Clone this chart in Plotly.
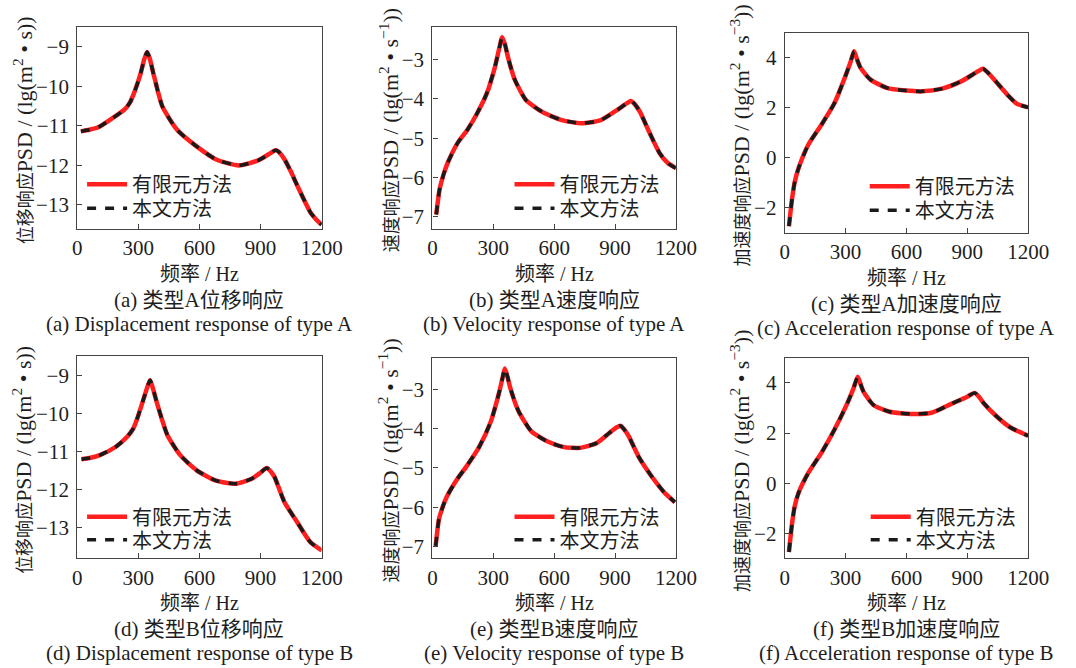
import plotly.graph_objects as go

# ---------------- data ----------------
freq_a = [18, 60, 106, 170, 234, 260, 282, 310, 330, 343, 355, 378, 418, 490, 586, 682, 794, 890, 940, 974, 990, 1018, 1050, 1082, 1146, 1175, 1200]
fem_a = [-11.14, -11.10, -11.03, -10.82, -10.58, -10.40, -10.13, -9.70, -9.30, -9.13, -9.28, -9.76, -10.51, -11.10, -11.52, -11.85, -12.00, -11.87, -11.72, -11.62, -11.66, -11.85, -12.17, -12.53, -13.20, -13.38, -13.50]
ours_a = list(fem_a)

freq_b = [19, 35, 55, 75, 123, 172, 220, 268, 308, 330, 344, 358, 372, 405, 461, 541, 638, 734, 830, 911, 950, 978, 995, 1023, 1071, 1120, 1160, 1200]
fem_b = [-6.94, -6.31, -5.92, -5.63, -5.13, -4.79, -4.37, -3.86, -3.19, -2.70, -2.43, -2.62, -2.93, -3.50, -4.03, -4.33, -4.54, -4.62, -4.54, -4.28, -4.14, -4.05, -4.12, -4.33, -4.87, -5.38, -5.63, -5.76]
ours_b = list(fem_b)

freq_c = [21, 37, 50, 69, 117, 182, 246, 302, 325, 342, 356, 374, 423, 503, 599, 679, 776, 872, 940, 977, 1000, 1033, 1097, 1145, 1200]
fem_c = [-2.74, -1.60, -0.95, -0.40, 0.53, 1.33, 2.20, 3.33, 3.85, 4.27, 3.95, 3.60, 3.13, 2.80, 2.69, 2.66, 2.77, 3.07, 3.40, 3.57, 3.42, 3.13, 2.53, 2.16, 2.02]
ours_c = list(fem_c)

freq_d = [21, 60, 108, 188, 244, 275, 300, 330, 348, 358, 372, 395, 443, 507, 586, 682, 778, 857, 900, 930, 950, 969, 1017, 1080, 1144, 1200]
fem_d = [-11.20, -11.17, -11.10, -10.88, -10.62, -10.40, -10.05, -9.55, -9.25, -9.13, -9.35, -9.79, -10.57, -11.10, -11.49, -11.76, -11.84, -11.71, -11.55, -11.43, -11.52, -11.67, -12.32, -12.85, -13.37, -13.59]
ours_d = list(fem_d)

freq_e = [16, 32, 50, 72, 120, 168, 232, 288, 328, 346, 357, 370, 384, 424, 488, 568, 648, 728, 808, 872, 905, 928, 945, 968, 1016, 1080, 1144, 1195]
fem_e = [-6.98, -6.31, -6.00, -5.72, -5.30, -4.96, -4.45, -3.82, -3.10, -2.70, -2.47, -2.68, -2.97, -3.55, -4.07, -4.33, -4.47, -4.49, -4.37, -4.11, -3.98, -3.93, -4.02, -4.20, -4.71, -5.21, -5.63, -5.87]
ours_e = list(fem_e)

freq_f = [21, 37, 50, 69, 117, 181, 245, 309, 340, 360, 374, 389, 437, 517, 629, 725, 821, 900, 936, 960, 981, 1045, 1109, 1200]
fem_f = [-2.74, -1.56, -0.90, -0.37, 0.42, 1.21, 2.13, 3.19, 3.80, 4.24, 3.95, 3.64, 3.12, 2.85, 2.76, 2.81, 3.16, 3.45, 3.60, 3.42, 3.19, 2.66, 2.24, 1.89]
ours_f = list(fem_f)

series_names = ["有限元方法", "本文方法"]
x_ticks = [0, 300, 600, 900, 1200]

panels = [
    dict(f=freq_a, fem=fem_a, ours=ours_a, yr=[-13.6, -8.5], yt=[-13, -12, -11, -10, -9],
         cjk="位移响应", ytitle="PSD / (lg(m<sup>2</sup> • s))",
         cap1="(a) 类型A位移响应", cap2="(a) Displacement response of type A"),
    dict(f=freq_b, fem=fem_b, ours=ours_b, yr=[-7.3, -2.17], yt=[-7, -6, -5, -4, -3],
         cjk="速度响应", ytitle="PSD / (lg(m<sup>2</sup> • s<sup>−1</sup>))",
         cap1="(b) 类型A速度响应", cap2="(b) Velocity response of type A"),
    dict(f=freq_c, fem=fem_c, ours=ours_c, yr=[-3, 5], yt=[-2, 0, 2, 4],
         cjk="加速度响应", ytitle="PSD / (lg(m<sup>2</sup> • s<sup>−3</sup>))",
         cap1="(c) 类型A加速度响应", cap2="(c) Acceleration response of type A"),
    dict(f=freq_d, fem=fem_d, ours=ours_d, yr=[-13.8, -8.5], yt=[-13, -12, -11, -10, -9],
         cjk="位移响应", ytitle="PSD / (lg(m<sup>2</sup> • s))",
         cap1="(d) 类型B位移响应", cap2="(d) Displacement response of type B"),
    dict(f=freq_e, fem=fem_e, ours=ours_e, yr=[-7.3, -2.2], yt=[-7, -6, -5, -4, -3],
         cjk="速度响应", ytitle="PSD / (lg(m<sup>2</sup> • s<sup>−1</sup>))",
         cap1="(e) 类型B速度响应", cap2="(e) Velocity response of type B"),
    dict(f=freq_f, fem=fem_f, ours=ours_f, yr=[-3, 5], yt=[-2, 0, 2, 4],
         cjk="加速度响应", ytitle="PSD / (lg(m<sup>2</sup> • s<sup>−3</sup>))",
         cap1="(f) 类型B加速度响应", cap2="(f) Acceleration response of type B"),
]

# ---------------- layout geometry (pixels) ----------------
W, H = 1076, 668
xdom_px = [(74, 324.5), (438, 687.5), (799, 1048.5)]
ydom_px = [(27, 229), (27, 229), (33, 233), (356.7, 559.3), (358.3, 559.3), (358.3, 559.3)]
ytitle_x = [18, 393, 753]
legend_x = [79, 517, 881, 79, 517, 882]
legend_rows = [(184, 208), (184, 208), (186, 210), (517, 540), (517, 540), (517, 540)]

FONT = "Liberation Serif, Times New Roman, Noto Sans CJK SC, serif"
AX = "#444444"
TXT = "#1e1e1e"

fig = go.Figure()
layout = dict(width=W, height=H, margin=dict(l=0, r=0, t=0, b=0),
              paper_bgcolor="white", plot_bgcolor="white",
              font=dict(family=FONT, size=21, color=TXT),
              annotations=[])

styles = [dict(color="#ff1f1f", width=4.5), dict(color="#1a1a1a", width=3.5, dash="9px,9px")]

for i, p in enumerate(panels):
    col = i % 3
    k = "" if i == 0 else str(i + 1)
    x0, x1 = xdom_px[col]
    yt_, yb_ = ydom_px[i]
    for j, (vals, nm, st) in enumerate(zip([p["fem"], p["ours"]], series_names, styles)):
        n = 2 * i + j + 1
        lg = "legend" if n == 1 else "legend" + str(n)
        fig.add_trace(go.Scatter(x=p["f"], y=vals, mode="lines", name=nm,
                                 line=dict(st, shape="spline", smoothing=0.6),
                                 xaxis="x" + k, yaxis="y" + k, legend=lg))
        layout[lg] = dict(x=legend_x[i] / W, y=1 - (legend_rows[i][j] - 19) / H,
                          xanchor="left", yanchor="top", bgcolor="rgba(0,0,0,0)",
                          font=dict(family=FONT, size=20, color=TXT), itemwidth=40)
    common = dict(showline=True, linecolor=AX, linewidth=1.2, mirror=True, ticks="inside",
                  ticklen=5, tickcolor=AX, tickwidth=1.2, showgrid=False, zeroline=False,
                  tickfont=dict(family=FONT, size=21, color=TXT))
    layout["xaxis" + k] = dict(common, domain=[x0 / W, x1 / W], range=[0, 1200],
                               tickvals=x_ticks, anchor="y" + k)
    layout["yaxis" + k] = dict(common, domain=[1 - yb_ / H, 1 - yt_ / H], range=p["yr"],
                               tickvals=p["yt"], anchor="x" + k, ticklabelstandoff=3)
    cx = (x0 + x1) / 2
    ytext = '<span style="font-size:18px">' + p["cjk"] + '</span>' + p["ytitle"]
    anns = [
        dict(text="频率 / Hz", x=cx / W, y=1 - (yb_ + 45) / H, font=dict(family=FONT, size=20, color=TXT)),
        dict(text=p["cap1"], x=cx / W, y=1 - (yb_ + 71) / H),
        dict(text=p["cap2"], x=cx / W, y=1 - (yb_ + 95) / H),
        dict(text=ytext, x=ytitle_x[col] / W, y=1 - ((yt_ + yb_) / 2 + 3) / H, textangle=-90,
             font=dict(family=FONT, size=22, color=TXT)),
    ]
    for a in anns:
        a.update(xref="paper", yref="paper", showarrow=False, xanchor="center", yanchor="middle")
        a.setdefault("font", dict(family=FONT, size=21, color=TXT))
        layout["annotations"].append(a)

fig.update_layout(**layout)
fig.update_layout(showlegend=True)
fig.write_html("out.html")
